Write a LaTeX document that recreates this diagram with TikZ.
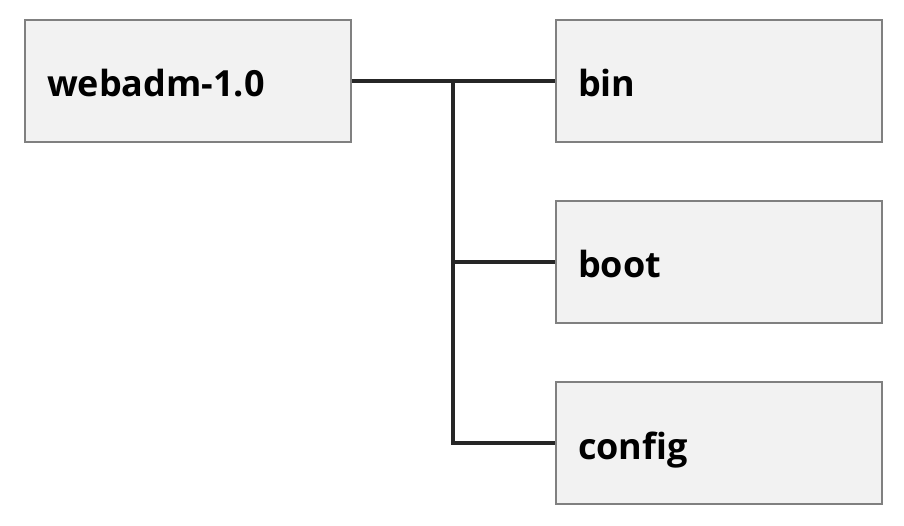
\documentclass[tikz,border=0pt]{standalone}
\usepackage{fontspec}
\setmainfont{Open Sans}
\definecolor{boxfill}{HTML}{F2F2F2}
\definecolor{boxline}{HTML}{808080}
\definecolor{connline}{HTML}{262626}
\begin{document}
\begin{tikzpicture}[x=1pt,y=-1pt,
  dirbox/.style={draw=boxline, line width=2pt, fill=boxfill, rectangle,
    minimum width=326pt, minimum height=122pt, text width=282pt, inner xsep=22pt,
    inner ysep=0pt, text height=32pt, text depth=0pt,
    align=left, font=\bfseries\fontsize{36}{40}\selectfont, anchor=north west},
  conn/.style={draw=connline, line width=4.5pt}]
\useasboundingbox (0,0) rectangle (904,526);
\node[dirbox] (w) at (24,19) {webadm-1.0};
\node[dirbox] (bin) at (555,19) {bin};
\node[dirbox] (boot) at (555,200) {boot};
\node[dirbox] (config) at (555,381) {config};
\coordinate (j) at (453,80);
\draw[conn] (w.east) -- (bin.west);
\draw[conn] (j) |- (config.west);
\draw[conn] (j |- boot.west) -- (boot.west);
\end{tikzpicture}
\end{document}
